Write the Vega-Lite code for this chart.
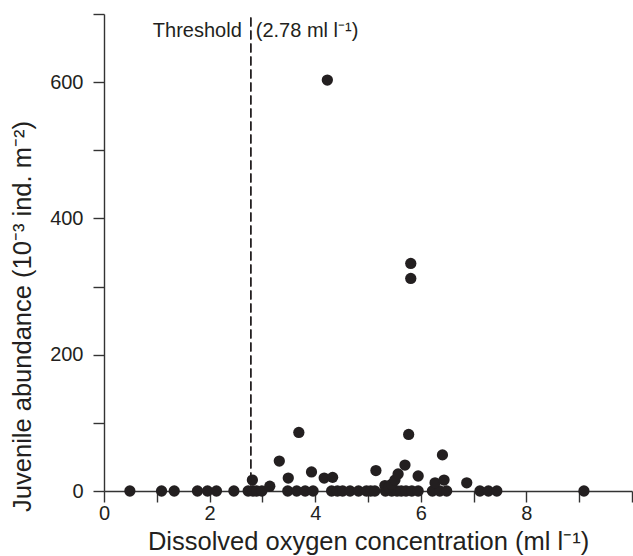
{
  "$schema": "https://vega.github.io/schema/vega-lite/v6.json",
  "width": 528,
  "height": 477,
  "autosize": "none",
  "padding": {"left": 104, "top": 14, "right": 1, "bottom": 65},
  "background": "white",
  "config": {
    "view": {"stroke": null},
    "font": "Liberation Sans",
    "axis": {
      "grid": false,
      "domainColor": "#333333",
      "domainWidth": 1.4,
      "tickColor": "#333333",
      "tickWidth": 1.4,
      "tickSize": 11,
      "labelFont": "Liberation Sans",
      "labelFontSize": 20,
      "labelColor": "#231f20",
      "titleFont": "Liberation Sans",
      "titleFontSize": 25.5,
      "titleFontWeight": "normal",
      "titleColor": "#231f20"
    }
  },
  "datasets": {
    "points": [
      {"oxygen": 0.49, "abundance": 0},
      {"oxygen": 1.09, "abundance": 0},
      {"oxygen": 1.33, "abundance": 0},
      {"oxygen": 1.77, "abundance": 0},
      {"oxygen": 1.96, "abundance": 0},
      {"oxygen": 2.13, "abundance": 0},
      {"oxygen": 2.46, "abundance": 0},
      {"oxygen": 2.73, "abundance": 0},
      {"oxygen": 2.82, "abundance": 0},
      {"oxygen": 2.89, "abundance": 0},
      {"oxygen": 2.99, "abundance": 0},
      {"oxygen": 3.48, "abundance": 0},
      {"oxygen": 3.65, "abundance": 0},
      {"oxygen": 3.81, "abundance": 0},
      {"oxygen": 3.96, "abundance": 0},
      {"oxygen": 4.31, "abundance": 0},
      {"oxygen": 4.42, "abundance": 0},
      {"oxygen": 4.52, "abundance": 0},
      {"oxygen": 4.66, "abundance": 0},
      {"oxygen": 4.82, "abundance": 0},
      {"oxygen": 4.97, "abundance": 0},
      {"oxygen": 5.05, "abundance": 0},
      {"oxygen": 5.13, "abundance": 0},
      {"oxygen": 5.33, "abundance": 0},
      {"oxygen": 5.45, "abundance": 0},
      {"oxygen": 5.55, "abundance": 0},
      {"oxygen": 5.63, "abundance": 0},
      {"oxygen": 5.72, "abundance": 0},
      {"oxygen": 5.83, "abundance": 0},
      {"oxygen": 5.95, "abundance": 0},
      {"oxygen": 6.22, "abundance": 0},
      {"oxygen": 6.36, "abundance": 0},
      {"oxygen": 6.49, "abundance": 0},
      {"oxygen": 7.12, "abundance": 0},
      {"oxygen": 7.28, "abundance": 0},
      {"oxygen": 7.44, "abundance": 0},
      {"oxygen": 9.09, "abundance": 0},
      {"oxygen": 2.81, "abundance": 16},
      {"oxygen": 3.14, "abundance": 7},
      {"oxygen": 3.32, "abundance": 44},
      {"oxygen": 3.49, "abundance": 19},
      {"oxygen": 3.69, "abundance": 86},
      {"oxygen": 3.93, "abundance": 28},
      {"oxygen": 4.17, "abundance": 19},
      {"oxygen": 4.33, "abundance": 20},
      {"oxygen": 4.23, "abundance": 603},
      {"oxygen": 5.15, "abundance": 30},
      {"oxygen": 5.32, "abundance": 8},
      {"oxygen": 5.39, "abundance": 5},
      {"oxygen": 5.45, "abundance": 10},
      {"oxygen": 5.51, "abundance": 16},
      {"oxygen": 5.57, "abundance": 25},
      {"oxygen": 5.70, "abundance": 38},
      {"oxygen": 5.77, "abundance": 83},
      {"oxygen": 5.81, "abundance": 334},
      {"oxygen": 5.81, "abundance": 312},
      {"oxygen": 5.95, "abundance": 22},
      {"oxygen": 6.27, "abundance": 12},
      {"oxygen": 6.41, "abundance": 53},
      {"oxygen": 6.44, "abundance": 16},
      {"oxygen": 6.87, "abundance": 12}
    ],
    "labels": [
      {"oxygen": 2.78, "abundance": 675, "label": "Threshold", "side": "left"},
      {"oxygen": 2.78, "abundance": 675, "label": "(2.78 ml l⁻¹)", "side": "right"}
    ]
  },
  "layer": [
    {
      "data": {"name": "points"},
      "mark": {"type": "point", "filled": true, "shape": "circle", "size": 127, "color": "#231f20", "opacity": 1},
      "encoding": {
        "x": {
          "field": "oxygen",
          "type": "quantitative",
          "scale": {"domain": [0, 10], "nice": false, "zero": false},
          "axis": {
            "title": "Dissolved oxygen concentration (ml l⁻¹)",
            "values": [0, 1, 2, 3, 4, 5, 6, 7, 8, 9, 10],
            "labelExpr": "datum.value % 2 == 0 && datum.value < 10 ? datum.label : ''",
            "labelPadding": 1,
            "titlePadding": 6,
            "labelFlush": false,
            "labelOverlap": false
          }
        },
        "y": {
          "field": "abundance",
          "type": "quantitative",
          "scale": {"domain": [0, 700], "nice": false},
          "axis": {
            "title": "Juvenile abundance (10⁻³ ind. m⁻²)",
            "values": [0, 100, 200, 300, 400, 500, 600, 700],
            "labelExpr": "datum.value % 200 == 0 ? datum.label : ''",
            "labelPadding": 10,
            "labelFlush": false,
            "labelOverlap": false,
            "titleX": -82,
            "titleY": 302,
            "titleAngle": -90,
            "titleAlign": "center",
            "titleBaseline": "middle"
          }
        }
      }
    },
    {
      "data": {"name": "labels"},
      "mark": {"type": "rule", "color": "#231f20", "strokeWidth": 1.5, "strokeDash": [9, 4]},
      "encoding": {
        "x": {"field": "oxygen", "type": "quantitative"},
        "y": {"datum": 695},
        "y2": {"datum": 0}
      }
    },
    {
      "data": {"name": "labels"},
      "transform": [{"filter": "datum.side == 'left'"}],
      "mark": {"type": "text", "align": "right", "baseline": "middle", "dx": -9, "fontSize": 20, "font": "Liberation Sans", "color": "#231f20"},
      "encoding": {
        "x": {"field": "oxygen", "type": "quantitative"},
        "y": {"field": "abundance", "type": "quantitative"},
        "text": {"field": "label"}
      }
    },
    {
      "data": {"name": "labels"},
      "transform": [{"filter": "datum.side == 'right'"}],
      "mark": {"type": "text", "align": "left", "baseline": "middle", "dx": 5, "fontSize": 20, "font": "Liberation Sans", "color": "#231f20"},
      "encoding": {
        "x": {"field": "oxygen", "type": "quantitative"},
        "y": {"field": "abundance", "type": "quantitative"},
        "text": {"field": "label"}
      }
    }
  ]
}
